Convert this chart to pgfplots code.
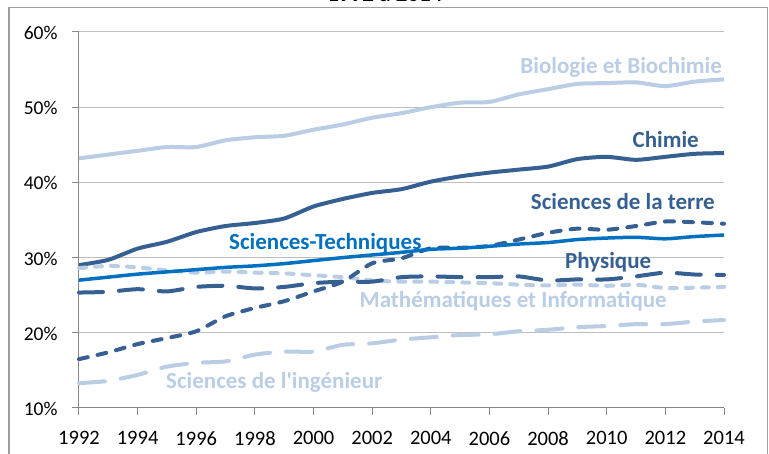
\documentclass[border=0pt]{standalone}
\usepackage{pgfplots}
\pgfplotsset{compat=1.18}
\usepackage{fontspec}
\setmainfont{Carlito}
\definecolor{cdark}{RGB}{55,96,146}
\definecolor{clight}{RGB}{185,205,229}
\definecolor{cmed}{RGB}{0,112,192}
\definecolor{cgrid}{RGB}{190,190,190}
\definecolor{caxis}{RGB}{134,134,134}
\begin{document}
\begin{tikzpicture}[x=1pt,y=1pt]
\begin{axis}[
  at={(0pt,0pt)}, anchor=south west,
  scale only axis, width=645pt, height=376pt,
  xmin=1992, xmax=2014, ymin=10, ymax=60,
  xtick={1992,1994,...,2014}, ytick={10,20,...,60},
  ymajorgrids, grid style={cgrid, line width=1pt},
  axis x line*=bottom, axis y line*=left,
  axis line style={-, caxis, line width=1pt},
  tick style={caxis, line width=1pt},
  major tick length=7pt, tick align=outside,
  /pgf/number format/assume math mode=true,
  xticklabel style={/pgf/number format/1000 sep={}, font=\fontsize{20.5}{21}\selectfont, yshift=-13pt},
  yticklabel style={font=\fontsize{19.5}{20}\selectfont, xshift=-11pt, yshift=-1pt},
  yticklabel={\pgfmathprintnumber{\tick}\%},
  clip=false,
]
% Biologie et Biochimie
\addplot[clight, line width=4pt, smooth, tension=0.4] coordinates {
(1992,43.2)(1993,43.7)(1994,44.2)(1995,44.7)(1996,44.7)(1997,45.6)(1998,46.0)(1999,46.2)(2000,47.0)(2001,47.7)(2002,48.6)(2003,49.2)(2004,50.0)(2005,50.6)(2006,50.7)(2007,51.7)(2008,52.4)(2009,53.1)(2010,53.2)(2011,53.3)(2012,52.8)(2013,53.4)(2014,53.7)};
% Chimie
\addplot[cdark, line width=4pt, smooth, tension=0.4] coordinates {
(1992,29.0)(1993,29.7)(1994,31.2)(1995,32.1)(1996,33.4)(1997,34.2)(1998,34.6)(1999,35.2)(2000,36.8)(2001,37.8)(2002,38.6)(2003,39.1)(2004,40.1)(2005,40.8)(2006,41.3)(2007,41.7)(2008,42.1)(2009,43.1)(2010,43.4)(2011,43.0)(2012,43.4)(2013,43.8)(2014,43.9)};
% Ingenieur
\addplot[clight, line width=4pt, smooth, tension=0.4, line cap=round, dash pattern=on 26pt off 16pt] coordinates {
(1992,13.3)(1993,13.6)(1994,14.4)(1995,15.5)(1996,16.0)(1997,16.2)(1998,17.1)(1999,17.5)(2000,17.5)(2001,18.4)(2002,18.6)(2003,19.1)(2004,19.4)(2005,19.7)(2006,19.8)(2007,20.2)(2008,20.4)(2009,20.75)(2010,20.9)(2011,21.15)(2012,21.15)(2013,21.5)(2014,21.7)};
% Mathematiques et Informatique
\addplot[clight, line width=4pt, smooth, tension=0.4, line cap=round, dash pattern=on 7pt off 9pt] coordinates {
(1992,28.6)(1993,28.9)(1994,28.7)(1995,28.3)(1996,28.0)(1997,28.15)(1998,28.0)(1999,27.9)(2000,27.65)(2001,27.4)(2002,26.95)(2003,26.8)(2004,26.8)(2005,26.7)(2006,26.6)(2007,26.4)(2008,26.3)(2009,26.4)(2010,26.25)(2011,26.4)(2012,25.95)(2013,26.0)(2014,26.1)};
% Physique
\addplot[cdark, line width=4pt, smooth, tension=0.4, line cap=round, dash pattern=on 24pt off 16pt] coordinates {
(1992,25.35)(1993,25.45)(1994,25.8)(1995,25.5)(1996,26.1)(1997,26.25)(1998,25.9)(1999,26.1)(2000,26.6)(2001,26.8)(2002,26.8)(2003,27.4)(2004,27.5)(2005,27.4)(2006,27.4)(2007,27.5)(2008,26.95)(2009,27.1)(2010,27.1)(2011,27.5)(2012,28.0)(2013,27.75)(2014,27.7)};
% Sciences de la terre
\addplot[cdark, line width=4pt, smooth, tension=0.4, line cap=round, dash pattern=on 9pt off 10pt] coordinates {
(1992,16.5)(1993,17.4)(1994,18.5)(1995,19.3)(1996,20.2)(1997,22.2)(1998,23.3)(1999,24.2)(2000,25.5)(2001,26.8)(2002,29.25)(2003,29.9)(2004,31.25)(2005,31.3)(2006,31.55)(2007,32.4)(2008,33.3)(2009,33.85)(2010,33.7)(2011,34.2)(2012,34.8)(2013,34.7)(2014,34.5)};
% Sciences-Techniques
\addplot[cmed, line width=3.5pt, smooth, tension=0.4] coordinates {
(1992,27.0)(1993,27.4)(1994,27.8)(1995,28.1)(1996,28.4)(1997,28.7)(1998,28.9)(1999,29.2)(2000,29.6)(2001,30.0)(2002,30.35)(2003,30.7)(2004,31.1)(2005,31.25)(2006,31.5)(2007,31.8)(2008,32.0)(2009,32.4)(2010,32.6)(2011,32.7)(2012,32.5)(2013,32.8)(2014,33.0)};
\end{axis}
% labels (pixel px,py -> X=px-79, Y=408-py)
\begin{scope}[every node/.style={font=\fontsize{23}{24}\selectfont\bfseries, inner sep=0pt}]
\node[anchor=base east, text=clight] at (643,334) {Biologie et Biochimie};
\node[anchor=base east, text=cdark] at (620,260.3) {Chimie};
\node[anchor=base east, text=cdark] at (636,198) {Sciences de la terre};
\node[anchor=base west, text=cmed] at (150,158.7) {Sciences-Techniques};
\node[anchor=base west, text=cdark] at (486,139.7) {Physique};
\node[anchor=base east, text=clight] at (588,100.7) {Mathématiques et Informatique};
\node[anchor=base west, text=clight] at (87,19.7) {Sciences de l\textquotesingle ingénieur};
\node[anchor=base, font=\fontsize{23}{24}\selectfont\bfseries] at (306,406) {1992 à 2014};
\end{scope}
\draw[caxis!80, line width=1.5pt] (-70,-80) rectangle (688.5,400.5);
\pgfresetboundingbox
\useasboundingbox (-79,-46) rectangle (690,408);
\end{tikzpicture}
\end{document}
